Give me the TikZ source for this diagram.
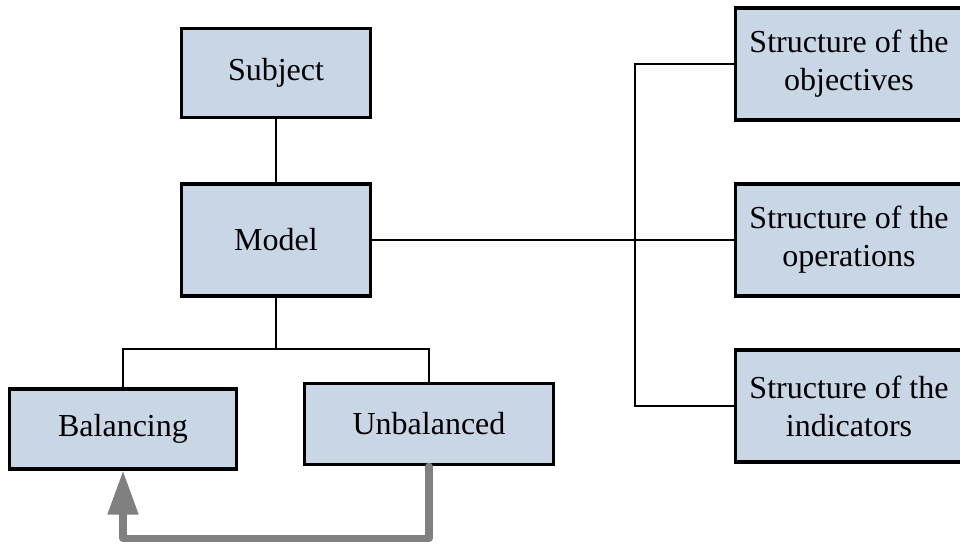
\documentclass[tikz,border=0pt]{standalone}
\usepackage{fontspec}
\setmainfont{Liberation Serif}
\usetikzlibrary{arrows.meta,positioning,calc}
\definecolor{boxfill}{RGB}{201,214,229}
\tikzset{
    box color/.style={fill=boxfill,draw=black},
    box style/.style={box color,line width=2.4pt,align=center,inner sep=0pt},
    small box/.style={box style,minimum width=142pt,minimum height=#1},
    small box/.default=66pt,
    wide box/.style={box style,minimum width=170pt,minimum height=84pt},
    link/.style={line width=0.9pt},
    feedback/.style={-{Triangle[length=33pt,width=22pt]},line width=5.3pt,draw=black!50,line join=round,line cap=round},
}
\tikzstyle{every node}=[font=\fontsize{24}{28.5}\selectfont]

\begin{document}
\begin{tikzpicture}[x=0.75pt,y=-0.75pt]
        \useasboundingbox (0,0) rectangle (960,543);
        \coordinate (split) at (276,349);
        
        \node[small box=67pt] (subject box) at (276,73) {Subject};
        \node[small box=84pt] (model box) at (276,240) {Model};
        \node[box style,minimum width=170pt,minimum height=60pt] (balancing box) at (123,429) {Balancing};
        \node[box style,minimum width=187pt,minimum height=61pt] (unbalanced box) at (429,424) {Unbalanced};
        
        \node[wide box] (objectives box) at (849,64) {Structure of the\\objectives};
        \node[wide box] (operations box) at (849,240) {Structure of the\\operations};
        \node[wide box] (indicators box) at (849,406) {Structure of the\\indicators};
        
        \draw[link] (subject box) -- (model box);
        \draw[link] (model box.south) -- (split);
        \draw[link] (balancing box.north) |- (split) -| (unbalanced box.north);
        \draw[link] (model box.east) -- (operations box.west);
        \draw[link] (objectives box.west) -- ++(-99,0) |- (indicators box.west);
        
        \draw[feedback] (unbalanced box.south) -- ++(0,72) -| (balancing box.south);
    \end{tikzpicture}
\end{document}
